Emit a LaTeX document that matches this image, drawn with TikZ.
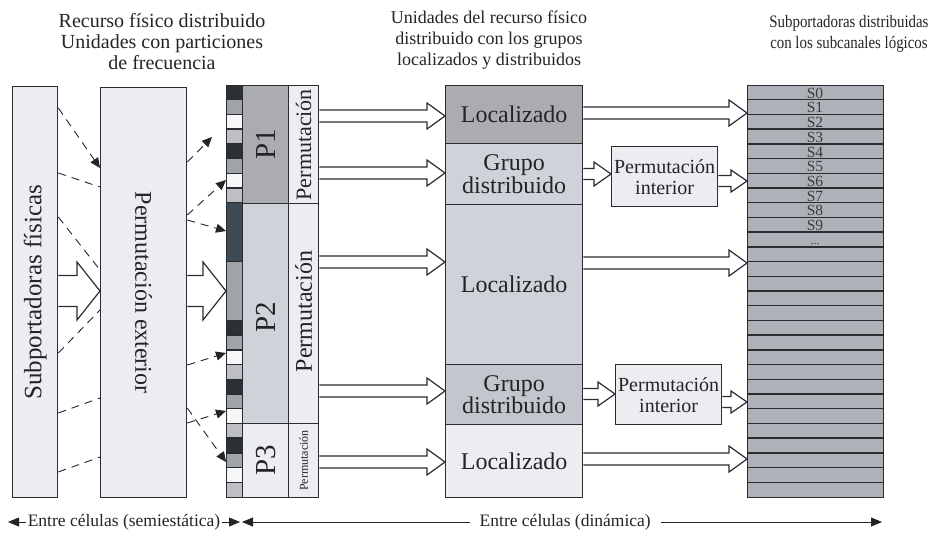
\documentclass[tikz,border=0pt]{standalone}
\usepackage{fontspec}
\setmainfont{Liberation Serif}
\newfontfamily\narrowserif[FakeStretch=0.85]{Liberation Serif}
\usetikzlibrary{arrows.meta,calc}

\definecolor{edge}{HTML}{2A2D30}
\definecolor{ink}{HTML}{222426}
\definecolor{pale}{HTML}{ECEDF1}
\definecolor{mid}{HTML}{CFD2D9}
\definecolor{midd}{HTML}{C3C6CC}
\definecolor{darkg}{HTML}{AAACB2}
\definecolor{subcfill}{HTML}{AFB1B8}
\definecolor{slabel}{HTML}{3A3D40}
\definecolor{cD}{HTML}{2A3033}
\definecolor{cG}{HTML}{A0A4A9}
\definecolor{cW}{HTML}{F6F7F9}
\definecolor{cL}{HTML}{BDBFC4}
\definecolor{cS}{HTML}{3F4B54}

\newcommand{\fs}[2]{\fontsize{#1}{#2}\selectfont}

% hollow block arrow: from node, to node, y, shaft half, head half, head length
\newcommand{\hollowarrow}[6]{%
  \draw[hollow] let \p1=(#1.east |- 0,#3), \p2=(#2.west |- 0,#3) in
    (\x1,\y1+#4) -- (\x2-#6,\y1+#4) -- (\x2-#6,\y1+#5) -- (\x2,\y1)
    -- (\x2-#6,\y1-#5) -- (\x2-#6,\y1-#4) -- (\x1,\y1-#4);}

\tikzset{
  box/.style={draw=edge, line width=1.3pt, inner sep=0pt, anchor=north west, text=ink},
  hollow/.style={draw=edge, line width=1.2pt, fill=white, line join=miter},
  dashline/.style={draw=ink, line width=0.9pt, dash pattern=on 8pt off 6pt},
  dasharrow/.style={dashline, -{Triangle[length=10pt,width=9pt]}},
  extent/.style={draw=ink, line width=0.8pt, {Triangle[length=11pt,width=9pt]}-{Triangle[length=11pt,width=9pt]}},
  toptext/.style={align=center, text=ink, inner sep=0pt},
  vlabel/.style={rotate=90, text=ink, inner sep=0pt},
  rowlabel/.style={font=\fs{15.5}{15.5}, text=slabel, inner sep=0pt},
}

\begin{document}
\begin{tikzpicture}[x=1pt, y=-1pt]
\useasboundingbox (0,0) rectangle (930,536);

% headers
\node[toptext, font=\fs{20}{21}] (h1) at (162,42) {Recurso físico distribuido\\Unidades con particiones\\de frecuencia};
\node[toptext, font=\fs{18}{21}] (h2) at (489,40) {Unidades del recurso físico\\distribuido con los grupos\\localizados y distribuidos};
\node[toptext, font=\narrowserif\fs{17.5}{21}] (h3) at (849,34) {Subportadoras distribuidas\\con los subcanales lógicos};

% physical subcarriers and outer permutation
\node[box, fill=pale, minimum width=45pt, minimum height=411pt] (subp) at (12,86) {};
\node[vlabel, font=\fs{25}{25}] (subpt) at (subp) {Subportadoras físicas};
\node[box, fill=pale, minimum width=86pt, minimum height=410pt] (pext) at (100,87) {};
\node[vlabel, rotate=180, font=\fs{24}{24}] (pextt) at (pext) {Permutación exterior};

% strip of frequency units
\foreach \c [count=\i from 0] in {cD,cG,cW,cL,cD,cG,cW,cL}
  \fill[\c] (226,85+\i*14.714) rectangle ++(16,14.714);
\fill[cS] (226,85+8*14.714) rectangle ++(16,4*14.714);
\fill[cG] (226,85+12*14.714) rectangle ++(16,4*14.714);
\foreach \c [count=\i from 16] in {cD,cG,cW,cL,cD,cG,cW,cL,cD,cG,cW,cL}
  \fill[\c] (226,85+\i*14.714) rectangle ++(16,14.714);
\foreach \i in {1,...,8,12,16,17,...,27}
  \draw[edge, line width=1.3pt] (226,85+\i*14.714) -- ++(16,0);
\node[box, minimum width=16pt, minimum height=412pt] (strip) at (226,85) {};

% partitions
\node[box, fill=darkg, minimum width=46pt, minimum height=118pt] (p1) at (242,85) {};
\node[box, fill=mid, minimum width=46pt, minimum height=220pt] (p2) at (242,203) {};
\node[box, fill=pale, minimum width=46pt, minimum height=74pt] (p3) at (242,423) {};
\node[vlabel, font=\fs{29}{29}] (p1t) at (p1) {P1};
\node[vlabel, font=\fs{29}{29}] (p2t) at ([yshift=-4pt]p2.center) {P2};
\node[vlabel, font=\fs{29}{29}] (p3t) at (p3) {P3};
\node[box, fill=pale, minimum width=30pt, minimum height=118pt] (m1) at (288,85) {};
\node[box, fill=pale, minimum width=30pt, minimum height=220pt] (m2) at (288,203) {};
\node[box, fill=pale, minimum width=30pt, minimum height=74pt] (m3) at (288,423) {};
\node[vlabel, font=\fs{22}{22}] (m1t) at (m1) {Permutación};
\node[vlabel, font=\fs{24}{24}] (m2t) at ([yshift=2pt]m2.center) {Permutación};
\node[vlabel, font=\fs{12}{12}] (m3t) at (m3) {Permutación};

% localized and distributed groups
\node[box, fill=darkg, minimum width=137pt, minimum height=58pt, font=\fs{24}{21}] (loc1) at (445,85) {Localizado};
\node[box, fill=mid, minimum width=137pt, minimum height=61pt, font=\fs{24}{21}, align=center] (grp1) at (445,143) {Grupo\\distribuido};
\node[box, fill=mid, minimum width=137pt, minimum height=160pt, font=\fs{24}{21}] (loc2) at (445,204) {Localizado};
\node[box, fill=midd, minimum width=137pt, minimum height=60pt, font=\fs{24}{21}, align=center] (grp2) at (445,364) {Grupo\\distribuido};
\node[box, fill=pale, minimum width=137pt, minimum height=73pt, font=\fs{24}{21}] (loc3) at (445,424) {Localizado};

% inner permutations
\node[box, fill=pale, minimum width=106pt, minimum height=60pt, font=\fs{20}{21}, align=center] (pin1) at (611,146) {Permutación\\interior};
\node[box, fill=pale, minimum width=106pt, minimum height=60pt, font=\fs{20}{21}, align=center] (pin2) at (615,364) {Permutación\\interior};

% distributed subcarriers
\node[box, fill=subcfill, minimum width=136pt, minimum height=412pt] (subc) at (747,85) {};
\foreach \i in {1,...,27}
  \draw[edge, line width=1.3pt] (747,85+\i*14.714) -- ++(136,0);
\foreach \i in {0,...,9}
  \node[rowlabel] (s\i) at (815,85+\i*14.714+8.2) {S\i};
\node[rowlabel, font=\fs{12}{12}] (sdots) at (815,244) {...};

% block arrows
\hollowarrow{subp}{pext}{291}{15.5}{29}{23}
\hollowarrow{pext}{strip}{291}{15.5}{29}{23}
\hollowarrow{m1}{loc1}{116}{6}{13}{18}
\hollowarrow{m1}{grp1}{173}{6}{13}{18}
\hollowarrow{m2}{loc2}{262}{6}{13}{18}
\hollowarrow{m2}{grp2}{391}{6}{13}{18}
\hollowarrow{m3}{loc3}{462}{6}{13}{18}
\hollowarrow{loc1}{subc}{113}{6}{13}{18}
\hollowarrow{grp1}{pin1}{174}{5.5}{12}{17}
\hollowarrow{pin1}{subc}{181}{5.5}{11}{16}
\hollowarrow{loc2}{subc}{263}{6}{13}{18}
\hollowarrow{grp2}{pin2}{394}{5.5}{12}{17}
\hollowarrow{pin2}{subc}{402}{5.5}{11}{16}
\hollowarrow{loc3}{subc}{459}{6}{13}{18}

% dashed mappings
\draw[dasharrow] (subp.east |- 0,108) -- (pext.west |- 0,168);
\draw[dashline] (subp.east |- 0,173) -- (pext.west |- 0,187);
\draw[dashline] (subp.east |- 0,217) -- (pext.west |- 0,270);
\draw[dashline] (subp.east |- 0,353) -- (pext.west |- 0,310);
\draw[dashline] (subp.east |- 0,413) -- (pext.west |- 0,398);
\draw[dashline] (subp.east |- 0,472) -- (pext.west |- 0,457);
\coordinate (loose) at (212,137);
\draw[dasharrow] (pext.east |- 0,162) -- (loose);
\draw[dasharrow] (pext.east |- 0,215) -- (strip.west |- 0,180);
\draw[dasharrow] (pext.east |- 0,220) -- (strip.west |- 0,231);
\draw[dasharrow] (pext.east |- 0,365) -- (strip.west |- 0,353);
\draw[dasharrow] (pext.east |- 0,423) -- (strip.west |- 0,411);
\draw[dasharrow] (pext.east |- 0,408) -- (strip.west |- 0,462);

% time scales
\coordinate (a0) at (8,522);
\coordinate (a1) at (240,522);
\coordinate (a2) at (242,522);
\coordinate (a3) at (882,522);
\draw[extent] (a0) -- (a1) node[midway, fill=white, font=\fs{17.5}{17.5}, text=ink, inner xsep=2pt, inner ysep=1pt] (t1) {Entre células (semiestática)};
\draw[extent] (a2) -- (a3) node[pos=0.505, fill=white, font=\fs{17.5}{17.5}, text=ink, inner xsep=10pt, inner ysep=1pt] (t2) {Entre células (dinámica)};
\end{tikzpicture}
\end{document}
